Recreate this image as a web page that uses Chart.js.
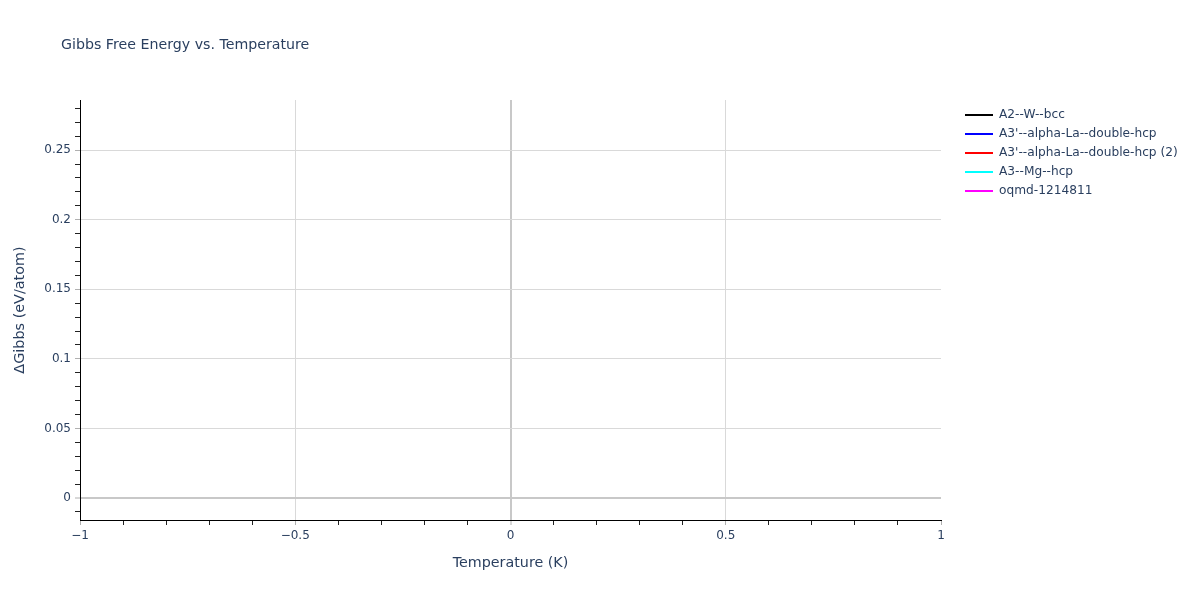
<!DOCTYPE html>
<html>
<head>
<meta charset="utf-8">
<script src="https://cdn.jsdelivr.net/npm/chart.js@4.4.1/dist/chart.umd.min.js"></script>
<style>
  html, body { margin: 0; padding: 0; background: #fff; }
  canvas { display: block; }
</style>
</head>
<body>
<canvas id="gibbs_chart" width="1200" height="600"></canvas>
<script>
// series (the reference shows no visible points for any phase)
var seriesNames = ["A2--W--bcc", "A3'--alpha-La--double-hcp", "A3'--alpha-La--double-hcp (2)", "A3--Mg--hcp", "oqmd-1214811"];
var seriesColors = ['#000000', '#0000ff', '#ff0000', '#00ffff', '#ff00ff'];
var temperatureK = [[], [], [], [], []];
var deltaGibbs = [[], [], [], [], []];

// axes
var xMajorTicks = [-1, -0.5, 0, 0.5, 1];
var xTickLabels = ['\u22121', '\u22120.5', '0', '0.5', '1'];
var yMajorTicks = [0, 0.05, 0.1, 0.15, 0.2, 0.25];
var yTickLabels = ['0', '0.05', '0.1', '0.15', '0.2', '0.25'];

var textColor = '#2a3f5f';
var fontFamily = '"DejaVu Sans", Verdana, sans-serif';

function findMajor(list, v) {
    for (var i = 0; i < list.length; i++) {
        if (Math.abs(list[i] - v) < 1e-9) return i;
    }
    return -1;
}

function minorTicks(from, to, step) {
    var out = [];
    for (var i = Math.round(from / step); i <= Math.round(to / step); i++) {
        out.push({ value: Math.round(i * step * 1000) / 1000 });
    }
    return out;
}

function gridColor(list, isEdge) {
    return function (ctx) {
        var v = ctx.tick ? ctx.tick.value : 0;
        if (isEdge(v)) return 'rgba(0,0,0,0)';
        if (Math.abs(v) < 1e-9) return '#c8c8c8';
        return findMajor(list, v) >= 0 ? '#d9d9d9' : 'rgba(0,0,0,0)';
    };
}

function tickColor(list) {
    return function (ctx) {
        var v = ctx.tick ? ctx.tick.value : 0;
        return findMajor(list, v) >= 0 ? '#b0b0b0' : '#222222';
    };
}

var datasets = seriesNames.map(function (name, i) {
    return {
        label: name,
        data: temperatureK[i].map(function (t, j) { return { x: t, y: deltaGibbs[i][j] }; }),
        borderColor: seriesColors[i],
        backgroundColor: seriesColors[i],
        borderWidth: 2,
        pointRadius: 0
    };
});

var titleAndLegend = {
    id: 'titleAndLegend',
    afterDraw: function (chart) {
        var ctx = chart.ctx;
        ctx.save();
        ctx.fillStyle = textColor;
        ctx.textBaseline = 'middle';
        ctx.font = '14.2px ' + fontFamily;
        ctx.fillText('Gibbs Free Energy vs. Temperature', 61, 45);
        ctx.font = '12.2px ' + fontFamily;
        chart.data.datasets.forEach(function (ds, i) {
            var y = 115 + 19 * i;
            ctx.strokeStyle = ds.borderColor;
            ctx.lineWidth = 2;
            ctx.beginPath();
            ctx.moveTo(965, y);
            ctx.lineTo(993, y);
            ctx.stroke();
            ctx.fillStyle = textColor;
            ctx.fillText(ds.label, 999, y);
        });
        ctx.restore();
    }
};

new Chart(document.getElementById('gibbs_chart').getContext('2d'), {
    type: 'line',
    data: { datasets: datasets },
    options: {
        responsive: false,
        animation: false,
        devicePixelRatio: 1,
        layout: { padding: { top: 100, right: 259, left: 0, bottom: 0 } },
        plugins: { legend: { display: false }, tooltip: { enabled: false } },
        scales: {
            x: {
                type: 'linear',
                min: -1,
                max: 1,
                afterFit: function (scale) { scale.height = 80; },
                afterBuildTicks: function (scale) { scale.ticks = minorTicks(-1, 1, 0.1); },
                border: { display: true, color: '#000000', width: 1 },
                grid: {
                    color: gridColor(xMajorTicks, function (v) { return Math.abs(Math.abs(v) - 1) < 1e-9; }),
                    lineWidth: function (ctx) { return ctx.tick && Math.abs(ctx.tick.value) < 1e-9 ? 2 : 1; },
                    tickColor: tickColor(xMajorTicks),
                    tickWidth: 1,
                    tickLength: 5
                },
                ticks: {
                    autoSkip: false,
                    maxRotation: 0,
                    padding: 4,
                    color: textColor,
                    font: { family: fontFamily, size: 12 },
                    callback: function (value) {
                        var k = findMajor(xMajorTicks, value);
                        return k >= 0 ? xTickLabels[k] : '';
                    }
                },
                title: {
                    display: true,
                    text: 'Temperature (K)',
                    color: textColor,
                    font: { family: fontFamily, size: 14.3 },
                    padding: { top: 0, bottom: 28 }
                }
            },
            y: {
                type: 'linear',
                min: -0.0158,
                max: 0.286,
                afterFit: function (scale) { scale.width = 80; },
                afterBuildTicks: function (scale) { scale.ticks = minorTicks(-0.01, 0.28, 0.01); },
                border: { display: true, color: '#000000', width: 1 },
                grid: {
                    color: gridColor(yMajorTicks, function (v) { return false; }),
                    lineWidth: function (ctx) { return ctx.tick && Math.abs(ctx.tick.value) < 1e-9 ? 2 : 1; },
                    tickColor: tickColor(yMajorTicks),
                    tickWidth: 1,
                    tickLength: 5
                },
                ticks: {
                    autoSkip: false,
                    padding: 4,
                    color: textColor,
                    font: { family: fontFamily, size: 12 },
                    callback: function (value) {
                        var k = findMajor(yMajorTicks, value);
                        return k >= 0 ? yTickLabels[k] : '';
                    }
                },
                title: {
                    display: true,
                    text: '\u0394Gibbs (eV/atom)',
                    color: textColor,
                    font: { family: fontFamily, size: 14.4 },
                    padding: { top: 12, bottom: 0 }
                }
            }
        }
    },
    plugins: [titleAndLegend]
});
</script>
</body>
</html>
